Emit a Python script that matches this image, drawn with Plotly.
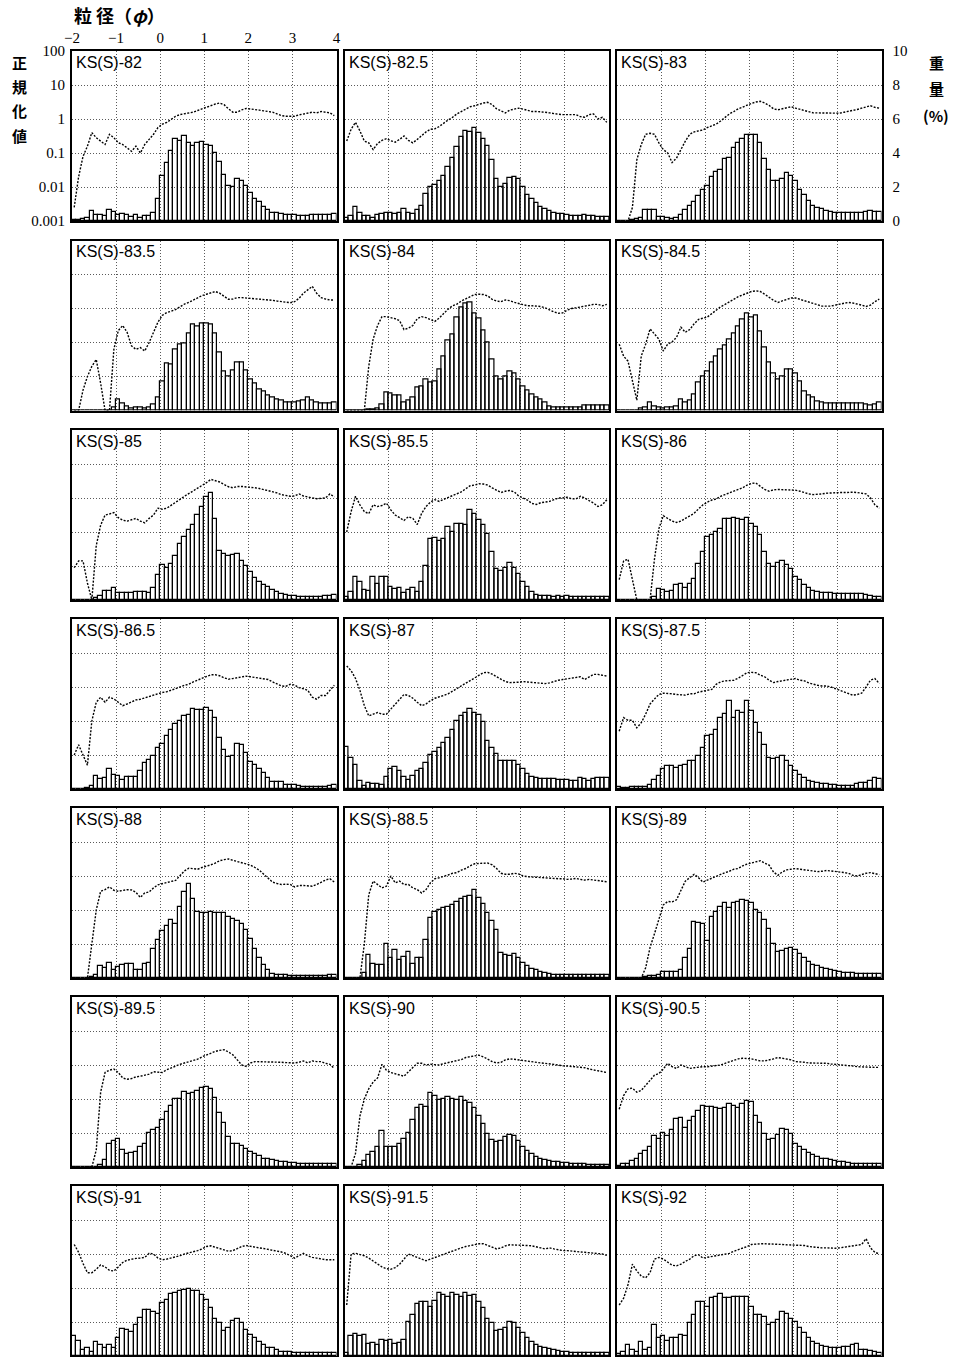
import plotly.graph_objects as go

# Grain-size histograms (weight %, right axis) and normalized values (log, left axis)
# for the KS(S) core samples, binned at 0.1 phi from -2 to 4 phi.

FIG_W, FIG_H = 958, 1357

samples = ["82", "82.5", "83", "83.5", "84", "84.5", "85", "85.5", "86",
           "86.5", "87", "87.5", "88", "88.5", "89", "89.5", "90", "90.5",
           "91", "91.5", "92"]

# bin centres (phi)
phi = [round(-1.95 + 0.1 * i, 2) for i in range(60)]

phi_ticks = [-2, -1, 0, 1, 2, 3, 4]
phi_labels = ["\u22122", "\u22121", "0", "1", "2", "3", "4"]
norm_ticks = [0.001, 0.01, 0.1, 1, 10, 100]
norm_labels = ["0.001", "0.01", "0.1", "1", "10", "100"]
weight_ticks = [0, 2, 4, 6, 8, 10]

# ---- weight (%) per 0.1 phi bin, and normalized value stored as log10 ----
w_82 = [0.05, 0.05, 0.1, 0.2, 0.6, 0.35, 0.35, 0.3, 0.65, 0.55,
        0.35, 0.4, 0.35, 0.25, 0.35, 0.2, 0.3, 0.3, 0.45, 1.3,
        2.65, 3.4, 4.1, 4.8, 4.7, 5.0, 4.6, 4.4, 4.6, 4.65,
        4.5, 4.4, 4.0, 3.5, 2.7, 2.05, 2.0, 2.45, 2.35, 2.05,
        1.65, 1.3, 1.1, 0.85, 0.65, 0.5, 0.45, 0.4, 0.35, 0.35,
        0.35, 0.3, 0.3, 0.3, 0.35, 0.35, 0.35, 0.35, 0.35, 0.4]
lg_82 = [-2.6, -1.7, -1.1, -0.8, -0.4, -0.55, -0.65, -0.75, -0.45, -0.55,
         -0.7, -0.75, -0.85, -0.95, -0.8, -1.0, -0.75, -0.6, -0.45, -0.25,
         -0.15, -0.1, 0.0, 0.08, 0.13, 0.15, 0.17, 0.2, 0.25, 0.3,
         0.35, 0.4, 0.44, 0.47, 0.42, 0.3, 0.2, 0.2, 0.27, 0.31,
         0.3, 0.28, 0.26, 0.24, 0.22, 0.2, 0.15, 0.1, 0.08, 0.08,
         0.08, 0.12, 0.15, 0.18, 0.2, 0.18, 0.22, 0.2, 0.18, 0.1]

w_82_5 = [0.15, 0.3, 0.8, 0.5, 0.3, 0.3, 0.2, 0.35, 0.43, 0.5,
          0.45, 0.43, 0.5, 0.7, 0.5, 0.43, 0.62, 0.88, 1.6, 2.0,
          2.1, 2.35, 2.65, 3.15, 3.7, 4.35, 4.95, 5.3, 5.25, 5.5,
          5.15, 4.8, 4.4, 3.6, 2.45, 2.0, 2.2, 2.55, 2.6, 2.45,
          2.0, 1.55, 1.27, 1.08, 0.82, 0.69, 0.6, 0.5, 0.43, 0.4,
          0.35, 0.31, 0.31, 0.27, 0.33, 0.29, 0.31, 0.24, 0.24, 0.26]
lg_82_5 = [-0.65, -0.3, -0.1, -0.35, -0.65, -0.7, -0.9, -0.72, -0.63, -0.58,
           -0.64, -0.68, -0.6, -0.5, -0.63, -0.7, -0.6, -0.48, -0.38, -0.3,
           -0.29, -0.22, -0.12, -0.03, 0.05, 0.15, 0.22, 0.3, 0.36, 0.39,
           0.44, 0.47, 0.49, 0.42, 0.3, 0.24, 0.18, 0.26, 0.3, 0.32,
           0.29, 0.25, 0.22, 0.22, 0.22, 0.2, 0.18, 0.15, 0.14, 0.13,
           0.14, 0.13, 0.13, 0.07, 0.05, 0.13, 0.15, 0.0, 0.05, -0.1]

w_83 = [0.02, 0.02, 0.02, 0.05, 0.1, 0.2, 0.65, 0.65, 0.65, 0.25,
        0.22, 0.15, 0.12, 0.2, 0.35, 0.65, 0.9, 1.1, 1.45, 1.8,
        2.05, 2.6, 2.9, 3.0, 3.65, 3.7, 4.3, 4.6, 4.8, 5.05,
        5.05, 5.05, 4.6, 3.65, 3.0, 2.35, 2.35, 2.45, 2.8, 2.65,
        2.35, 1.85, 1.55, 1.15, 0.9, 0.75, 0.7, 0.6, 0.53, 0.5,
        0.5, 0.5, 0.5, 0.5, 0.5, 0.5, 0.55, 0.57, 0.55, 0.55]
lg_83 = [-3, -3, -3, -2.6, -1.2, -0.75, -0.45, -0.42, -0.45, -0.7,
         -0.9, -1.0, -1.28, -1.15, -0.88, -0.65, -0.45, -0.38, -0.35, -0.32,
         -0.25, -0.2, -0.15, -0.06, 0.04, 0.15, 0.22, 0.3, 0.35, 0.41,
         0.46, 0.5, 0.52, 0.47, 0.4, 0.3, 0.27, 0.3, 0.33, 0.36,
         0.32, 0.28, 0.24, 0.2, 0.18, 0.18, 0.18, 0.17, 0.17, 0.17,
         0.17, 0.2, 0.22, 0.25, 0.28, 0.32, 0.35, 0.39, 0.34, 0.32]

w_83_5 = [0.02, 0.02, 0.02, 0.02, 0.02, 0.02, 0.02, 0.0, 0.0, 0.2,
          0.65, 0.4, 0.25, 0.12, 0.15, 0.15, 0.12, 0.15, 0.35, 0.75,
          1.7, 2.75, 2.7, 3.6, 3.9, 3.95, 4.55, 5.05, 4.95, 5.1,
          5.1, 5.05, 4.55, 3.4, 2.3, 2.0, 2.35, 2.85, 2.8, 2.35,
          1.8, 1.6, 1.25, 1.1, 0.9, 0.75, 0.65, 0.6, 0.5, 0.5,
          0.5, 0.55, 0.6, 0.75, 0.6, 0.45, 0.4, 0.4, 0.4, 0.45]
lg_83_5 = [-3, -3, -2.4, -2.0, -1.7, -1.5, -2.2, -3, -3, -1.2,
           -0.65, -0.5, -0.7, -1.1, -1.2, -1.15, -1.25, -1.0, -0.7, -0.4,
           -0.2, -0.12, -0.08, -0.03, 0.05, 0.13, 0.18, 0.25, 0.3, 0.38,
           0.42, 0.46, 0.5, 0.45, 0.36, 0.27, 0.28, 0.32, 0.32, 0.31,
           0.3, 0.3, 0.28, 0.27, 0.25, 0.24, 0.22, 0.2, 0.2, 0.17,
           0.2, 0.3, 0.45, 0.55, 0.65, 0.45, 0.32, 0.28, 0.25, 0.25]

w_84 = [0.02, 0.02, 0.02, 0.02, 0.02, 0.06, 0.05, 0.12, 0.35, 1.08,
        1.0, 0.88, 0.88, 0.5, 0.6, 0.78, 1.37, 1.4, 1.8, 1.63,
        1.73, 2.4, 3.15, 4.1, 4.5, 5.45, 6.05, 6.3, 6.35, 5.7,
        5.4, 4.7, 4.0, 3.0, 2.0, 1.85, 2.0, 2.3, 2.15, 1.8,
        1.4, 1.15, 0.95, 0.78, 0.65, 0.45, 0.25, 0.2, 0.2, 0.2,
        0.2, 0.2, 0.2, 0.2, 0.28, 0.28, 0.28, 0.28, 0.28, 0.28]
lg_84 = [-3, -3, -3, -3, -3, -1.7, -0.9, -0.5, -0.24, -0.24,
         -0.27, -0.3, -0.36, -0.62, -0.58, -0.5, -0.3, -0.24, -0.27, -0.33,
         -0.38, -0.28, -0.14, -0.02, 0.08, 0.13, 0.22, 0.29, 0.36, 0.41,
         0.42, 0.41, 0.37, 0.27, 0.22, 0.2, 0.25, 0.23, 0.18, 0.14,
         0.12, 0.08, 0.08, 0.08, 0.06, 0.02, -0.05, -0.1, -0.14, -0.13,
         -0.05, 0.0, 0.02, 0.05, 0.06, 0.1, 0.12, 0.12, 0.08, 0.12]

w_84_5 = [0.02, 0.02, 0.02, 0.02, 0.02, 0.1, 0.2, 0.45, 0.25, 0.15,
          0.1, 0.15, 0.2, 0.25, 0.65, 0.5, 0.6, 0.95, 1.63, 2.0,
          2.3, 2.85, 3.2, 3.6, 3.8, 4.2, 4.55, 4.95, 5.35, 5.7,
          5.45, 5.6, 4.65, 3.7, 2.8, 2.2, 1.8, 2.0, 2.4, 2.4,
          2.2, 1.72, 1.13, 0.88, 0.75, 0.55, 0.45, 0.4, 0.4, 0.4,
          0.4, 0.4, 0.4, 0.4, 0.4, 0.4, 0.35, 0.3, 0.35, 0.5]
lg_84_5 = [-1.05, -1.4, -1.55, -2.1, -2.7, -1.4, -1.05, -0.6, -0.75, -0.9,
           -1.25, -1.05, -0.98, -0.85, -0.55, -0.7, -0.62, -0.45, -0.32, -0.28,
           -0.25, -0.15, -0.05, 0.05, 0.12, 0.2, 0.27, 0.35, 0.4, 0.45,
           0.5, 0.52, 0.5, 0.42, 0.33, 0.24, 0.18, 0.22, 0.26, 0.31,
           0.31, 0.27, 0.22, 0.18, 0.14, 0.1, 0.07, 0.07, 0.07, 0.1,
           0.13, 0.16, 0.18, 0.16, 0.14, 0.1, 0.06, 0.1, 0.2, 0.28]

w_85 = [0.02, 0.02, 0.02, 0.02, 0.02, 0.1, 0.25, 0.55, 0.55, 0.7,
        0.4, 0.4, 0.4, 0.4, 0.5, 0.5, 0.45, 0.4, 0.7, 1.45,
        2.08, 1.88, 2.1, 2.6, 3.3, 3.7, 4.1, 4.43, 5.0, 5.45,
        6.05, 6.27, 4.76, 2.9, 2.7, 2.6, 2.67, 2.7, 2.3, 1.98,
        1.63, 1.3, 1.08, 0.88, 0.75, 0.6, 0.45, 0.35, 0.3, 0.25,
        0.22, 0.2, 0.18, 0.16, 0.18, 0.18, 0.2, 0.22, 0.25, 0.3]
lg_85 = [-2.05, -1.85, -1.85, -2.5, -3, -1.4, -0.8, -0.5, -0.47, -0.43,
         -0.58, -0.65, -0.68, -0.65, -0.6, -0.68, -0.73, -0.6, -0.5, -0.3,
         -0.33, -0.3, -0.22, -0.12, -0.04, 0.05, 0.13, 0.2, 0.3, 0.38,
         0.45, 0.55, 0.52, 0.47, 0.4, 0.33, 0.3, 0.34, 0.34, 0.33,
         0.33, 0.3, 0.28, 0.25, 0.23, 0.18, 0.15, 0.1, 0.08, 0.05,
         0.06, 0.12, 0.06, 0.02, 0.0, -0.02, -0.02, 0.0, 0.12, 0.03]

w_85_5 = [0.15, 0.5, 1.35, 1.05, 0.6, 0.55, 1.35, 0.95, 1.35, 1.35,
          0.75, 0.65, 0.7, 0.4, 0.6, 0.7, 0.45, 1.05, 2.0, 3.6,
          3.65, 3.45, 3.6, 4.3, 4.0, 4.45, 4.5, 4.4, 5.3, 5.05,
          4.7, 4.4, 3.9, 2.8, 1.85, 1.73, 1.9, 2.15, 1.9, 1.53,
          1.05, 0.75, 0.5, 0.3, 0.25, 0.22, 0.22, 0.2, 0.22, 0.2,
          0.22, 0.2, 0.2, 0.18, 0.2, 0.18, 0.16, 0.16, 0.15, 0.15]
lg_85_5 = [-1.0, -0.4, 0.05, -0.2, -0.4, -0.46, -0.2, -0.25, -0.22, -0.15,
           -0.35, -0.5, -0.58, -0.66, -0.55, -0.6, -0.78, -0.45, -0.25, -0.12,
           -0.05, -0.1, -0.04, 0.02, 0.06, 0.12, 0.18, 0.27, 0.36, 0.38,
           0.42, 0.41, 0.38, 0.3, 0.22, 0.16, 0.2, 0.22, 0.18, 0.06,
           0.0, -0.06, -0.16, -0.19, -0.14, -0.12, -0.1, -0.05, 0.0, 0.0,
           0.02, -0.02, -0.03, 0.05, 0.0, -0.08, -0.15, -0.25, -0.2, -0.05]

w_86 = [0.01, 0.01, 0.01, 0.01, 0.0, 0.0, 0.0, 0.0, 0.15, 0.65,
        0.6, 0.45, 0.55, 0.9, 0.95, 0.7, 0.95, 1.25, 2.1, 2.85,
        3.7, 3.8, 4.0, 4.2, 4.75, 4.75, 4.8, 4.75, 4.7, 4.8,
        4.45, 4.3, 3.8, 2.8, 2.1, 1.92, 2.2, 2.3, 2.05, 1.8,
        1.35, 1.15, 0.9, 0.7, 0.55, 0.45, 0.4, 0.4, 0.4, 0.35,
        0.35, 0.35, 0.35, 0.35, 0.35, 0.35, 0.3, 0.25, 0.2, 0.15]
lg_86 = [-2.4, -1.85, -1.8, -2.4, -3, -3, -3, -3, -1.8, -0.9,
         -0.52, -0.6, -0.68, -0.72, -0.68, -0.6, -0.52, -0.45, -0.32, -0.2,
         -0.12, -0.06, -0.03, 0.05, 0.1, 0.15, 0.2, 0.25, 0.3, 0.38,
         0.43, 0.44, 0.35, 0.25, 0.2, 0.24, 0.25, 0.25, 0.25, 0.25,
         0.23, 0.2, 0.15, 0.12, 0.1, 0.1, 0.12, 0.14, 0.15, 0.17,
         0.16, 0.16, 0.17, 0.17, 0.16, 0.15, 0.12, 0.0, -0.2, -0.3]

w_86_5 = [0.02, 0.02, 0.02, 0.05, 0.15, 0.78, 0.6, 0.65, 1.2, 0.8,
          0.75, 0.55, 0.7, 0.7, 0.7, 1.05, 1.53, 1.7, 1.92, 2.4,
          2.65, 3.1, 3.5, 3.8, 4.0, 4.27, 4.37, 4.73, 4.67, 4.67,
          4.75, 4.6, 4.2, 3.0, 2.3, 1.88, 1.92, 2.67, 2.6, 2.12,
          1.6, 1.4, 1.2, 0.95, 0.65, 0.4, 0.4, 0.4, 0.25, 0.22,
          0.22, 0.15, 0.12, 0.12, 0.1, 0.12, 0.12, 0.1, 0.15, 0.25]
lg_86_5 = [-2.0, -1.7, -2.0, -2.3, -1.0, -0.45, -0.3, -0.45, -0.3, -0.35,
           -0.45, -0.55, -0.5, -0.43, -0.38, -0.36, -0.32, -0.27, -0.24, -0.2,
           -0.16, -0.14, -0.1, -0.05, 0.0, 0.05, 0.08, 0.15, 0.2, 0.26,
           0.32, 0.36, 0.36, 0.33, 0.27, 0.23, 0.25, 0.28, 0.3, 0.32,
           0.3, 0.28, 0.26, 0.24, 0.22, 0.15, 0.08, 0.03, 0.02, 0.08,
           0.06, -0.02, -0.05, -0.1, -0.3, -0.36, -0.25, -0.25, -0.1, 0.05]

w_87 = [2.5, 1.82, 1.43, 0.45, 0.15, 0.35, 0.3, 0.3, 0.25, 0.7,
        1.2, 1.27, 1.05, 0.7, 0.55, 0.75, 1.05, 1.15, 1.53, 2.0,
        2.2, 2.4, 2.7, 3.0, 3.5, 4.0, 4.27, 4.5, 4.73, 4.5,
        4.37, 3.95, 2.85, 2.4, 2.05, 1.63, 1.63, 1.67, 1.63, 1.4,
        1.15, 0.9, 0.7, 0.65, 0.6, 0.6, 0.58, 0.58, 0.55, 0.55,
        0.55, 0.5, 0.5, 0.65, 0.58, 0.5, 0.6, 0.65, 0.65, 0.65]
lg_87 = [0.62, 0.48, 0.25, -0.1, -0.55, -0.85, -0.8, -0.75, -0.8, -0.8,
         -0.65, -0.5, -0.35, -0.22, -0.25, -0.33, -0.45, -0.55, -0.5, -0.4,
         -0.33, -0.3, -0.25, -0.2, -0.12, -0.05, 0.02, 0.1, 0.18, 0.28,
         0.36, 0.42, 0.43, 0.38, 0.3, 0.22, 0.16, 0.13, 0.13, 0.14,
         0.16, 0.15, 0.13, 0.12, 0.11, 0.1, 0.12, 0.17, 0.2, 0.22,
         0.24, 0.25, 0.26, 0.3, 0.22, 0.3, 0.37, 0.37, 0.35, 0.32]

w_87_5 = [0.1, 0.08, 0.06, 0.1, 0.12, 0.1, 0.12, 0.25, 0.55, 0.75,
          1.15, 1.33, 1.37, 1.23, 1.33, 1.4, 1.63, 1.63, 1.92, 2.4,
          3.1, 3.15, 3.5, 4.2, 4.4, 5.2, 4.15, 4.57, 4.45, 5.15,
          4.6, 3.9, 3.3, 2.6, 1.82, 1.75, 1.82, 1.92, 1.67, 1.33,
          1.08, 0.84, 0.65, 0.5, 0.4, 0.35, 0.3, 0.3, 0.25, 0.22,
          0.15, 0.2, 0.2, 0.15, 0.3, 0.35, 0.35, 0.45, 0.65, 0.6]
lg_87_5 = [-1.3, -0.9, -0.98, -0.98, -1.2, -1.05, -0.8, -0.5, -0.35, -0.22,
           -0.18, -0.18, -0.2, -0.22, -0.24, -0.24, -0.2, -0.2, -0.15, -0.12,
           -0.08, -0.07, 0.08, 0.15, 0.18, 0.18, 0.2, 0.26, 0.35, 0.42,
           0.43, 0.42, 0.35, 0.3, 0.2, 0.13, 0.16, 0.18, 0.2, 0.24,
           0.25, 0.2, 0.18, 0.12, 0.08, 0.05, 0.03, 0.03, 0.0, -0.05,
           -0.08, -0.15, -0.2, -0.24, -0.22, -0.18, 0.0, 0.2, 0.25, 0.1]

w_88 = [0.0, 0.0, 0.0, 0.0, 0.06, 0.15, 0.7, 0.6, 0.9, 0.5,
        0.65, 0.75, 0.8, 0.8, 0.5, 0.5, 0.85, 0.88, 1.7, 2.25,
        2.75, 3.05, 3.4, 3.2, 4.2, 5.05, 5.55, 4.65, 3.9, 3.8,
        3.8, 3.9, 3.8, 3.8, 3.8, 3.6, 3.45, 3.35, 3.2, 2.8,
        2.27, 1.7, 1.2, 0.75, 0.45, 0.25, 0.2, 0.15, 0.15, 0.1,
        0.1, 0.1, 0.1, 0.1, 0.1, 0.1, 0.1, 0.12, 0.15, 0.15]
lg_88 = [-3, -3, -3, -3, -2.0, -1.0, -0.45, -0.4, -0.32, -0.42,
         -0.45, -0.42, -0.4, -0.41, -0.48, -0.63, -0.5, -0.47, -0.35, -0.26,
         -0.22, -0.19, -0.16, -0.13, 0.0, 0.15, 0.23, 0.22, 0.2, 0.25,
         0.28, 0.33, 0.38, 0.45, 0.48, 0.5, 0.46, 0.42, 0.38, 0.35,
         0.32, 0.25, 0.17, 0.05, -0.08, -0.18, -0.22, -0.25, -0.24, -0.25,
         -0.32, -0.28, -0.28, -0.3, -0.3, -0.25, -0.18, -0.12, -0.08, -0.18]

w_88_5 = [0.0, 0.0, 0.0, 0.0, 0.3, 1.35, 0.8, 0.78, 0.78, 2.0,
          1.15, 1.65, 1.05, 1.25, 1.55, 0.8, 1.2, 1.2, 2.25, 3.55,
          3.9, 4.0, 4.1, 4.2, 4.3, 4.45, 4.65, 4.75, 4.85, 5.2,
          4.7, 4.35, 3.8, 3.35, 2.85, 1.5, 1.35, 1.3, 1.4, 1.2,
          0.9, 0.7, 0.55, 0.45, 0.35, 0.3, 0.25, 0.2, 0.2, 0.2,
          0.2, 0.2, 0.2, 0.2, 0.2, 0.2, 0.2, 0.2, 0.2, 0.2]
lg_88_5 = [-3, -3, -3, -3, -2.0, -0.55, -0.15, -0.25, -0.35, -0.3,
           0.0, -0.2, -0.15, -0.25, -0.25, -0.35, -0.4, -0.5, -0.4, -0.2,
           -0.08, -0.05, -0.02, 0.03, 0.08, 0.1, 0.17, 0.22, 0.3, 0.36,
           0.37, 0.38, 0.38, 0.33, 0.22, 0.08, 0.05, 0.05, 0.08, 0.06,
           0.0, -0.02, -0.03, -0.05, -0.05, -0.06, -0.06, -0.08, -0.08, -0.08,
           -0.1, -0.09, -0.07, -0.1, -0.12, -0.1, -0.12, -0.15, -0.15, -0.17]

w_89 = [0.0, 0.0, 0.0, 0.0, 0.0, 0.0, 0.05, 0.1, 0.12, 0.2,
        0.35, 0.35, 0.35, 0.38, 0.45, 1.15, 1.73, 3.3, 3.25, 3.15,
        2.2, 3.6, 3.9, 4.2, 4.43, 4.1, 4.43, 4.47, 4.57, 4.53,
        4.4, 4.0, 3.8, 3.4, 2.9, 2.0, 1.53, 1.6, 1.7, 1.78,
        1.63, 1.43, 1.2, 0.95, 0.75, 0.7, 0.6, 0.55, 0.45, 0.4,
        0.35, 0.3, 0.28, 0.28, 0.22, 0.25, 0.25, 0.25, 0.25, 0.22]
lg_89 = [-3, -3, -3, -3, -3, -3, -2.7, -2.1, -1.7, -1.25,
         -0.85, -0.75, -0.76, -0.7, -0.4, -0.15, -0.05, 0.05, -0.05, -0.18,
         -0.12, -0.06, 0.0, 0.05, 0.1, 0.14, 0.2, 0.22, 0.3, 0.35,
         0.38, 0.42, 0.45, 0.38, 0.32, 0.12, 0.02, 0.12, 0.18, 0.2,
         0.22, 0.2, 0.18, 0.16, 0.14, 0.13, 0.14, 0.16, 0.15, 0.14,
         0.12, 0.1, 0.08, 0.02, 0.0, 0.05, 0.08, 0.1, 0.08, 0.04]

w_89_5 = [0.0, 0.0, 0.0, 0.0, 0.0, 0.0, 0.12, 0.4, 1.33, 1.53,
          1.63, 1.0, 0.78, 0.8, 0.88, 1.2, 1.33, 2.0, 2.2, 2.3,
          2.75, 3.25, 3.6, 4.0, 4.0, 4.43, 4.27, 4.37, 4.5, 4.67,
          4.73, 4.57, 4.08, 3.2, 2.6, 1.78, 1.33, 1.37, 1.23, 1.04,
          0.88, 0.75, 0.65, 0.5, 0.45, 0.4, 0.35, 0.3, 0.3, 0.25,
          0.25, 0.2, 0.2, 0.2, 0.2, 0.2, 0.2, 0.2, 0.2, 0.2]
lg_89_5 = [-3, -3, -3, -3, -3, -2.5, -0.8, -0.22, -0.15, -0.12,
           -0.22, -0.38, -0.42, -0.4, -0.35, -0.33, -0.3, -0.27, -0.2, -0.2,
           -0.22, -0.14, -0.08, -0.03, 0.02, 0.06, 0.1, 0.12, 0.17, 0.24,
           0.3, 0.35, 0.4, 0.43, 0.45, 0.38, 0.3, 0.15, 0.0, -0.04,
           0.06, 0.1, 0.1, 0.1, 0.09, 0.08, 0.08, 0.08, 0.07, 0.06,
           0.06, 0.08, 0.12, 0.06, 0.12, 0.1, 0.1, 0.05, 0.02, -0.1]

w_90 = [0.0, 0.0, 0.0, 0.1, 0.35, 0.7, 0.88, 1.2, 2.1, 1.15,
        1.2, 1.2, 1.33, 1.63, 2.0, 2.75, 3.45, 3.65, 3.55, 4.37,
        4.2, 3.95, 4.0, 4.1, 4.0, 3.95, 4.1, 3.9, 3.75, 3.5,
        3.0, 2.55, 1.92, 1.6, 1.5, 1.55, 1.75, 1.9, 1.85, 1.55,
        1.2, 0.95, 0.75, 0.6, 0.5, 0.4, 0.35, 0.3, 0.28, 0.25,
        0.22, 0.2, 0.18, 0.18, 0.15, 0.12, 0.12, 0.1, 0.1, 0.1]
lg_90 = [-3, -3, -2.6, -1.5, -1.0, -0.7, -0.5, -0.38, 0.02, -0.15,
         -0.22, -0.25, -0.3, -0.33, -0.2, -0.08, 0.05, 0.05, 0.0, 0.02,
         0.0, 0.0, 0.04, 0.06, 0.1, 0.13, 0.16, 0.22, 0.25, 0.28,
         0.29, 0.24, 0.16, 0.1, 0.06, 0.08, 0.15, 0.18, 0.17, 0.15,
         0.12, 0.1, 0.08, 0.07, 0.06, 0.05, 0.03, 0.0, 0.0, -0.02,
         -0.03, -0.04, -0.06, -0.06, -0.08, -0.12, -0.14, -0.18, -0.2, -0.22]

w_90_5 = [0.06, 0.15, 0.2, 0.35, 0.45, 0.75, 0.95, 1.2, 1.82, 1.63,
          2.0, 1.82, 2.2, 2.8, 2.9, 2.3, 2.7, 2.95, 3.3, 3.6,
          3.55, 3.55, 3.5, 3.4, 3.5, 3.7, 3.6, 3.45, 3.7, 3.9,
          3.8, 3.0, 2.57, 1.92, 1.6, 1.63, 1.87, 2.25, 2.17, 1.92,
          1.33, 1.2, 1.0, 0.84, 0.7, 0.6, 0.5, 0.45, 0.4, 0.35,
          0.3, 0.28, 0.22, 0.18, 0.15, 0.15, 0.15, 0.15, 0.15, 0.15]
lg_90_5 = [-1.3, -0.9, -0.7, -0.68, -0.8, -0.75, -0.6, -0.45, -0.3, -0.25,
           -0.12, 0.05, -0.05, -0.1, 0.0, -0.05, -0.1, -0.08, -0.06, -0.05,
           -0.05, -0.04, -0.02, 0.0, 0.05, 0.1, 0.15, 0.18, 0.2, 0.2,
           0.18, 0.15, 0.12, 0.12, 0.14, 0.18, 0.22, 0.2, 0.18, 0.15,
           0.1, 0.1, 0.08, 0.06, 0.06, 0.06, 0.05, 0.05, 0.03, 0.02,
           0.02, 0.0, -0.02, -0.03, -0.05, -0.06, -0.06, -0.07, -0.07, -0.07]

w_91 = [1.15, 0.9, 0.35, 0.45, 0.22, 0.8, 0.65, 0.5, 0.65, 0.45,
        1.05, 1.6, 1.53, 1.43, 1.82, 2.25, 2.7, 2.7, 2.57, 2.5,
        3.1, 3.3, 3.65, 3.7, 3.8, 3.9, 3.95, 3.85, 3.85, 3.6,
        3.3, 2.85, 2.2, 1.92, 1.47, 1.63, 2.05, 2.17, 1.92, 1.53,
        1.23, 1.04, 0.84, 0.65, 0.5, 0.45, 0.35, 0.25, 0.25, 0.22,
        0.2, 0.2, 0.2, 0.2, 0.18, 0.18, 0.18, 0.18, 0.18, 0.2]
lg_91 = [0.28, 0.05, -0.28, -0.55, -0.55, -0.45, -0.32, -0.38, -0.48, -0.5,
         -0.38, -0.25, -0.18, -0.15, -0.13, -0.12, -0.1, 0.02, 0.0, -0.12,
         -0.17, -0.15, -0.12, -0.08, -0.05, 0.0, 0.03, 0.07, 0.1, 0.15,
         0.22, 0.24, 0.2, 0.18, 0.12, 0.08, 0.1, 0.17, 0.22, 0.25,
         0.22, 0.2, 0.18, 0.16, 0.14, 0.12, 0.08, 0.06, 0.02, -0.05,
         -0.12, -0.05, 0.02, -0.05, -0.1, -0.12, -0.15, -0.17, -0.17, -0.17]

w_91_5 = [0.15, 1.2, 1.27, 1.15, 1.23, 0.7, 0.75, 0.65, 0.95, 0.9,
          0.95, 0.7, 0.75, 0.95, 2.0, 2.4, 3.05, 3.15, 3.2, 2.9,
          3.25, 3.7, 3.6, 3.5, 3.7, 3.6, 3.5, 3.7, 3.55, 3.6,
          3.15, 2.85, 2.2, 1.92, 1.47, 1.55, 1.63, 2.0, 1.92, 1.63,
          1.33, 1.04, 0.84, 0.65, 0.55, 0.45, 0.4, 0.35, 0.3, 0.25,
          0.22, 0.2, 0.2, 0.18, 0.18, 0.18, 0.15, 0.15, 0.15, 0.15]
lg_91_5 = [-1.5, 0.0, 0.02, -0.02, -0.05, -0.12, -0.2, -0.3, -0.38, -0.43,
           -0.45, -0.4, -0.3, -0.15, 0.0, -0.05, -0.1, -0.15, -0.2, -0.15,
           -0.1, -0.05, 0.0, 0.05, 0.1, 0.15, 0.18, 0.22, 0.25, 0.28,
           0.3, 0.3, 0.25, 0.18, 0.15, 0.18, 0.24, 0.27, 0.27, 0.27,
           0.26, 0.25, 0.24, 0.22, 0.18, 0.15, 0.18, 0.15, 0.12, 0.1,
           0.1, 0.08, 0.06, 0.06, 0.05, 0.04, 0.03, 0.02, 0.0, -0.04]

w_92 = [0.1, 0.25, 0.65, 0.35, 0.25, 0.85, 0.35, 0.45, 1.82, 1.04,
        1.15, 0.9, 1.04, 1.04, 1.23, 1.2, 1.92, 2.4, 3.2, 3.15,
        2.9, 3.4, 3.5, 3.65, 3.4, 3.4, 3.45, 3.5, 3.5, 3.5,
        2.9, 2.4, 2.4, 2.3, 1.8, 1.92, 2.1, 2.6, 2.5, 2.17,
        1.98, 1.63, 1.33, 1.04, 0.84, 0.7, 0.6, 0.55, 0.5, 0.5,
        0.5, 0.55, 0.55, 0.65, 0.7, 0.35, 0.35, 0.3, 0.25, 0.2]
lg_92 = [-1.5, -1.3, -0.9, -0.3, -0.5, -0.65, -0.7, -0.55, -0.15, -0.1,
         -0.15, -0.25, -0.33, -0.35, -0.3, -0.22, -0.15, -0.05, -0.02, -0.12,
         -0.1, -0.08, -0.05, -0.02, 0.0, 0.02, 0.08, 0.12, 0.17, 0.22,
         0.28, 0.3, 0.3, 0.3, 0.3, 0.29, 0.28, 0.28, 0.27, 0.27,
         0.27, 0.26, 0.25, 0.22, 0.2, 0.18, 0.18, 0.18, 0.17, 0.17,
         0.18, 0.2, 0.22, 0.24, 0.25, 0.28, 0.45, 0.18, 0.05, 0.0]

weights = [w_82, w_82_5, w_83, w_83_5, w_84, w_84_5, w_85, w_85_5, w_86,
           w_86_5, w_87, w_87_5, w_88, w_88_5, w_89, w_89_5, w_90, w_90_5,
           w_91, w_91_5, w_92]
lognorm = [lg_82, lg_82_5, lg_83, lg_83_5, lg_84, lg_84_5, lg_85, lg_85_5, lg_86,
           lg_86_5, lg_87, lg_87_5, lg_88, lg_88_5, lg_89, lg_89_5, lg_90, lg_90_5,
           lg_91, lg_91_5, lg_92]

# ---- page geometry (pixels) ----
col_left = [72, 344.5, 617]
row_top = [51, 240.5, 430, 619, 808, 997, 1186]
PW, PH = 264.5, 170

SERIF = "Liberation Serif, Times New Roman, serif"
SANS = "Liberation Sans, Arial, sans-serif"
CJK = "Noto Sans CJK JP, sans-serif"
GRID = "#5a5a5a"


def fx(px):
    return px / FIG_W


def fy(py):
    return 1 - py / FIG_H


fig = go.Figure()
layout = {}
annotations = []

for k, name in enumerate(samples):
    r, c = divmod(k, 3)
    x0 = col_left[c]
    yt = row_top[r]
    xd = [fx(x0), fx(x0 + PW)]
    yd = [fy(yt + PH), fy(yt)]
    xs = "" if k == 0 else str(k + 1)
    ybs = "" if k == 0 else str(2 * k + 1)
    yls = str(2 * k + 2)

    fig.add_trace(go.Bar(
        x=phi, y=weights[k], width=0.1,
        xaxis="x" + xs, yaxis="y" + ybs,
        marker=dict(color="rgba(255,255,255,0)",
                    line=dict(color="black", width=1.2)),
        hoverinfo="skip", showlegend=False))
    fig.add_trace(go.Scatter(
        x=phi, y=[10 ** v for v in lognorm[k]],
        xaxis="x" + xs, yaxis="y" + yls, mode="lines",
        line=dict(color="black", width=1.4, dash="2px,1.5px"),
        hoverinfo="skip", showlegend=False))

    layout["xaxis" + xs] = dict(
        domain=xd, anchor="y" + ybs, range=[-2, 4], automargin=False,
        showgrid=True, gridcolor=GRID, gridwidth=1, griddash="1px,2px",
        tickvals=phi_ticks, ticktext=phi_labels, side="top",
        showticklabels=(k == 0), ticks="", ticklabelstandoff=0,
        tickfont=dict(family=SERIF, size=15, color="black"),
        showline=True, mirror=True, linecolor="black", linewidth=2,
        zeroline=False, fixedrange=True)
    # weight axis: labels only on the right-hand panel of the first row
    layout["yaxis" + ybs] = dict(
        domain=yd, anchor="x" + xs, range=[0, 10], side="right",
        automargin=False,
        showgrid=True, gridcolor=GRID, gridwidth=1, griddash="1px,2px",
        tickvals=weight_ticks, showticklabels=(k == 2), ticks="",
        ticklabelstandoff=6,
        tickfont=dict(family=SERIF, size=15, color="black"),
        showline=True, mirror=True, linecolor="black", linewidth=2,
        zeroline=False, fixedrange=True)
    # normalized-value axis: labels only on the first panel
    layout["yaxis" + yls] = dict(
        overlaying="y" + ybs, anchor="x" + xs, type="log", range=[-3, 2],
        side="left", showgrid=False, showline=False, zeroline=False,
        automargin=False,
        tickvals=norm_ticks, ticktext=norm_labels,
        showticklabels=(k == 0), ticks="", ticklabelstandoff=6,
        tickfont=dict(family=SERIF, size=15, color="black"),
        fixedrange=True)

    annotations.append(dict(
        text="KS(S)-" + name, x=fx(x0 + 2), y=fy(yt + 1),
        xref="paper", yref="paper", xanchor="left", yanchor="top",
        showarrow=False, font=dict(family=SANS, size=16, color="black")))

# axis titles
annotations.append(dict(
    text="<b>粒 径（<i>φ</i>）</b>", x=fx(72), y=fy(15), xref="paper", yref="paper",
    xanchor="left", yanchor="middle", showarrow=False,
    font=dict(family=CJK, size=18, color="black")))
for ch, py in zip("正規化値", [62, 87, 111, 135]):
    annotations.append(dict(
        text="<b>" + ch + "</b>", x=fx(19), y=fy(py), xref="paper", yref="paper",
        xanchor="center", yanchor="middle", showarrow=False,
        font=dict(family=CJK, size=15, color="black")))
for txt, py in zip(["重", "量", "(%)"], [63, 89, 115]):
    annotations.append(dict(
        text="<b>" + txt + "</b>", x=fx(936), y=fy(py), xref="paper", yref="paper",
        xanchor="center", yanchor="middle", showarrow=False,
        font=dict(family=CJK, size=15, color="black")))

fig.update_layout(
    template="none",
    width=FIG_W, height=FIG_H,
    margin=dict(l=0, r=0, t=0, b=0, pad=0, autoexpand=False),
    paper_bgcolor="white", plot_bgcolor="white",
    barmode="overlay", bargap=0, showlegend=False,
    annotations=annotations, **layout)

fig.write_html("out.html")
